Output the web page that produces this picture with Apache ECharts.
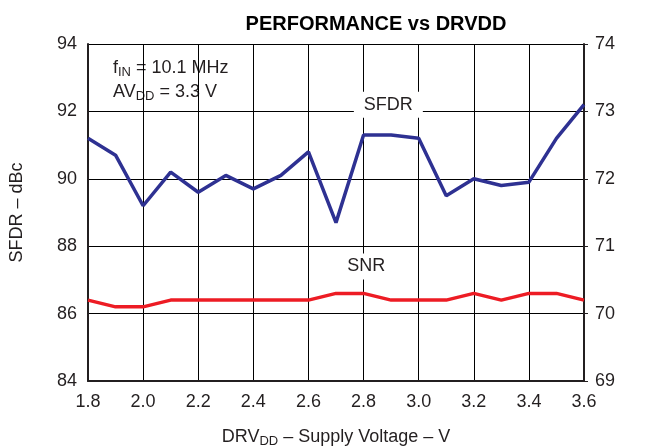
<!DOCTYPE html>
<html>
<head>
<meta charset="utf-8">
<script src="https://cdn.jsdelivr.net/npm/echarts@6/dist/echarts.min.js"></script>
<style>
  html, body { margin: 0; padding: 0; background: #fff; }
  #chart { width: 645px; height: 446px; }
</style>
</head>
<body>
<div id="chart"></div>
<script>
// supply voltage (V)
var voltage = [1.8, 1.9, 2.0, 2.1, 2.2, 2.3, 2.4, 2.5, 2.6, 2.7, 2.8, 2.9, 3.0, 3.1, 3.2, 3.3, 3.4, 3.5, 3.6];
// SFDR - dBc (left axis)
var sfdr = [91.2, 90.7, 89.2, 90.2, 89.6, 90.1, 89.7, 90.1, 90.8, 88.7, 91.3, 91.3, 91.2, 89.5, 90.0, 89.8, 89.9, 91.2, 92.2];
// SNR (right axis)
var snr = [70.2, 70.1, 70.1, 70.2, 70.2, 70.2, 70.2, 70.2, 70.2, 70.3, 70.3, 70.2, 70.2, 70.2, 70.3, 70.2, 70.3, 70.3, 70.2];

var font = 'Liberation Sans, Arial, sans-serif';
var txt = '#231f20';

var myChart = echarts.init(document.getElementById('chart'));

function pairs(ys) {
  return voltage.map(function (v, i) { return [v, ys[i]]; });
}

var option = {
  animation: false,
  backgroundColor: '#fff',
  title: {
    text: 'PERFORMANCE vs DRVDD',
    left: 371, top: 9, textAlign: 'center',
    textStyle: { fontFamily: font, fontSize: 20, fontWeight: 'bold', color: '#000' }
  },
  grid: { left: 88, right: 61, top: 44, bottom: 65, outerBoundsMode: 'none', containLabel: false },
  xAxis: {
    type: 'value', min: 1.8, max: 3.6, interval: 0.2,
    name: '{n|DRV}{s|DD}{n| – Supply Voltage – V}',
    nameLocation: 'middle', nameGap: 45,
    nameTextStyle: {
      rich: {
        n: { fontFamily: font, fontSize: 18, color: txt, lineHeight: 22 },
        s: { fontFamily: font, fontSize: 13, color: txt, lineHeight: 22, padding: [9, 0, 0, 0] }
      }
    },
    axisLine: { lineStyle: { color: txt, width: 2 } },
    axisTick: { show: false },
    axisLabel: { fontFamily: font, fontSize: 18, color: txt, margin: 12,
      formatter: function (v) { return v.toFixed(1); } },
    splitLine: { show: true, lineStyle: { color: '#000', width: 1 } }
  },
  yAxis: [{
    type: 'value', min: 84, max: 94, interval: 2,
    name: 'SFDR – dBc', nameLocation: 'middle', nameGap: 62,
    nameTextStyle: { fontFamily: font, fontSize: 18, color: txt },
    axisLine: { show: true, lineStyle: { color: txt, width: 2 } },
    axisTick: { show: false },
    axisLabel: { fontFamily: font, fontSize: 18, color: txt, margin: 11 },
    splitLine: { show: true, lineStyle: { color: '#000', width: 1 } }
  }, {
    type: 'value', min: 69, max: 74, interval: 1, position: 'right',
    axisLine: { show: true, lineStyle: { color: txt, width: 2 } },
    axisTick: { show: true, length: 4, lineStyle: { color: txt } },
    axisLabel: { fontFamily: font, fontSize: 18, color: txt, margin: 11 },
    splitLine: { show: false }
  }],
  graphic: [{
    type: 'text', left: 113, top: 57,
    style: {
      text: '{n|f}{s|IN}{n| = 10.1 MHz}\n{n|AV}{s|DD}{n| = 3.3 V}',
      rich: {
        n: { fontFamily: font, fontSize: 18, fill: txt, lineHeight: 24 },
        s: { fontFamily: font, fontSize: 13, fill: txt, lineHeight: 24, padding: [9, 0, 0, 0] }
      }
    }
  }],
  series: [{
    name: 'SFDR', type: 'line', yAxisIndex: 0,
    data: pairs(sfdr), symbol: 'none',
    lineStyle: { color: '#2e3192', width: 3.5 },
    markPoint: {
      symbol: 'rect', symbolSize: 1, itemStyle: { color: 'rgba(0,0,0,0)' },
      label: { show: true, position: 'inside', formatter: 'SFDR',
        fontFamily: font, fontSize: 18, color: txt, backgroundColor: '#fff', padding: [4, 10] },
      data: [{ coord: [2.89, 92.2] }]
    }
  }, {
    name: 'SNR', type: 'line', yAxisIndex: 1,
    data: pairs(snr), symbol: 'none',
    lineStyle: { color: '#ed1c24', width: 3.5 },
    markPoint: {
      symbol: 'rect', symbolSize: 1, itemStyle: { color: 'rgba(0,0,0,0)' },
      label: { show: true, position: 'inside', formatter: 'SNR',
        fontFamily: font, fontSize: 18, color: txt, backgroundColor: '#fff', padding: [4, 10] },
      data: [{ coord: [2.81, 70.7] }]
    }
  }]
};

myChart.setOption(option);
window.addEventListener('resize', function () { myChart.resize(); });
</script>
</body>
</html>
